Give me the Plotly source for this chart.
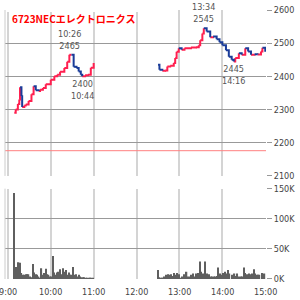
import plotly.graph_objects as go

# ---- data (minutes after 9:00) ----
price_t_am = [9, 11, 14, 16, 17, 19, 20, 23, 25, 29, 33, 36, 39, 43, 45, 49, 53, 60, 65, 69, 73, 79, 83, 86,
              89, 92, 96, 99, 102, 104, 108, 112, 116, 120]
price_am = [2290, 2300, 2317, 2330, 2367, 2340, 2308, 2312, 2315, 2326, 2346, 2370, 2358, 2356, 2360, 2365,
            2376, 2390, 2400, 2405, 2414, 2425, 2444, 2465, 2465, 2429, 2425, 2415, 2405, 2400, 2403, 2405,
            2426, 2440]
price_t_pm = [210, 212, 216, 220, 223, 227, 232, 234, 236, 239, 243, 247, 256, 263, 267, 269, 272, 274,
              278, 283, 287, 292, 296, 300, 305, 309, 313, 316, 318, 323, 327, 332, 336, 340, 345, 349,
              354, 356, 360]
price_pm = [2435, 2420, 2417, 2418, 2430, 2432, 2440, 2455, 2474, 2485, 2480, 2485, 2487, 2488, 2494, 2509,
            2529, 2545, 2535, 2518, 2520, 2512, 2503, 2494, 2479, 2459, 2450, 2445, 2455, 2470, 2465, 2485,
            2475, 2465, 2467, 2466, 2475, 2486, 2474]

vol_t = [9, 11, 13, 15, 17, 19, 21, 23, 25, 27, 29, 31, 33, 35, 37, 39, 41, 43, 45, 47, 49, 51, 53, 55,
         57, 59, 61, 63, 65, 67, 69, 71, 73, 75, 77, 79, 81, 83, 85, 87, 89, 91, 93, 95, 97, 99, 101, 103,
         105, 107, 109, 111, 113, 115, 117, 119,
         210, 212, 214, 216, 217, 219, 221, 224, 226, 228, 230, 232, 235, 237, 239, 241, 244, 246, 248, 250,
         252, 255, 257, 259, 261, 264, 266, 269, 270, 273, 275, 276, 278, 281, 284, 286, 288, 290, 292, 294,
         297, 299, 301, 304, 306, 308, 310, 313, 315, 317, 319, 321, 324, 326, 328, 330, 332, 335, 337, 339,
         341, 344, 346, 348, 350, 352, 355, 357, 359]
vol_k = [143, 20, 12, 28, 27, 10, 7, 7, 8, 8, 8, 4, 3, 25, 11, 8, 7, 4, 2, 18, 7, 10, 17, 8,
         7, 4, 4, 38, 11, 7, 11, 12, 16, 8, 18, 12, 15, 7, 11, 7, 7, 20, 7, 8, 4, 7, 4, 3,
         3, 3, 2, 2, 2, 2, 2, 2,
         15, 3, 1, 1, 2, 4, 7, 8, 7, 8, 5, 10, 7, 10, 8, 2, 4, 8, 4, 12,
         4, 4, 7, 9, 4, 9, 10, 29, 12, 9, 8, 29, 9, 8, 4, 4, 4, 4, 5, 19,
         9, 7, 10, 12, 9, 15, 9, 7, 5, 9, 5, 9, 4, 4, 4, 19, 10, 8, 9, 8,
         9, 16, 9, 7, 7, 7, 10, 8, 9]

hi_t = [86, 274]
hi_label_time = ["10:26", "13:34"]
hi_val = [2465, 2545]
lo_t = [104, 316]
lo_label_time = ["10:44", "14:16"]
lo_val = [2400, 2445]
ref_line = 2176

x_ticks = [0, 60, 120, 180, 240, 300, 360]
x_labels = ["9:00", "10:00", "11:00", "12:00", "13:00", "14:00", "15:00"]
p_ticks = [2100, 2200, 2300, 2400, 2500, 2600]
v_ticks = [0, 50000, 100000, 150000]
v_labels = ["0K", "50K", "100K", "150K"]
title = "6723NECエレクトロニクス"

RED = "#ff1f4f"
BLUE = "#1a3c99"
TICKFONT = dict(family="DejaVu Sans Condensed, DejaVu Sans", size=9, color="#444")

fig = go.Figure()


def add_steps(ts, ps):
    up_x, up_y, dn_x, dn_y = [], [], [], []
    for i in range(len(ts) - 1):
        seg_x = [ts[i], ts[i + 1], ts[i + 1], None]
        seg_y = [ps[i], ps[i], ps[i + 1], None]
        if ps[i + 1] >= ps[i]:
            up_x += seg_x
            up_y += seg_y
        else:
            dn_x += seg_x
            dn_y += seg_y
    fig.add_trace(go.Scatter(x=up_x, y=up_y, mode="lines", line=dict(color=RED, width=2),
                             xaxis="x", yaxis="y", hoverinfo="skip"))
    fig.add_trace(go.Scatter(x=dn_x, y=dn_y, mode="lines", line=dict(color=BLUE, width=2),
                             xaxis="x", yaxis="y", hoverinfo="skip"))


add_steps(price_t_am, price_am)
add_steps(price_t_pm, price_pm)

fig.add_trace(go.Bar(x=vol_t, y=[v * 1000 for v in vol_k], width=1.8,
                     marker=dict(color="#5f5f5f", line=dict(width=0)),
                     xaxis="x2", yaxis="y2", hoverinfo="skip"))

xcommon = dict(range=[-4, 361], tickvals=x_ticks, showgrid=True, gridcolor="#d4d4d4", gridwidth=2,
               zeroline=False, showline=False, ticks="", showticklabels=False)

fig.update_layout(
    width=300, height=300,
    margin=dict(l=5, r=22, t=5, b=21),
    paper_bgcolor="white", plot_bgcolor="white",
    showlegend=False,
    xaxis=dict(**xcommon, anchor="y"),
    xaxis2=dict(**xcommon, anchor="y2"),
    yaxis=dict(domain=[0.3832, 1], range=[2100, 2600], side="right", tickvals=p_ticks,
               showgrid=True, gridcolor="#999", gridwidth=1, zeroline=False,
               ticks="outside", ticklen=5, tickcolor="#999", tickfont=TICKFONT, anchor="x"),
    yaxis2=dict(domain=[0, 0.3358], range=[0, 150000], side="right", tickvals=v_ticks,
                ticktext=v_labels, showgrid=True, gridcolor="#999", gridwidth=1, zeroline=False,
                ticks="outside", ticklen=5, tickcolor="#999", tickfont=TICKFONT, anchor="x2"),
)

# x tick labels as annotations (so the 9:00 label at the edge stays visible)
for tv, tl in zip(x_ticks, x_labels):
    fig.add_annotation(x=tv, y=-0.047, xref="x2", yref="paper", text=tl, showarrow=False,
                       xanchor="center", yanchor="middle", font=TICKFONT)

# reference horizontal line
fig.add_shape(type="line", xref="x domain", x0=0, x1=1, yref="y", y0=ref_line, y1=ref_line,
              line=dict(color="#ff8080", width=1))
# left borders
for yr in ["y domain", "y2 domain"]:
    fig.add_shape(type="line", xref="x domain", x0=0, x1=0, yref=yr, y0=0, y1=1,
                  line=dict(color="#cccccc", width=1))
# hide top gridline under title
fig.add_shape(type="rect", layer="between", xref="x", x0=-4, x1=186, yref="y", y0=2594, y1=2606,
              fillcolor="white", line=dict(width=0))

LBL = dict(family="DejaVu Sans Condensed, DejaVu Sans", size=9, color="#555")
for t, tm, v in zip(hi_t, hi_label_time, hi_val):
    fig.add_annotation(x=t, y=v, xref="x", yref="y", text=f"{tm}<br>{v}", showarrow=False,
                       yanchor="bottom", yshift=2, font=LBL, align="center")
for t, tm, v in zip(lo_t, lo_label_time, lo_val):
    fig.add_annotation(x=t, y=v, xref="x", yref="y", text=f"{v}<br>{tm}", showarrow=False,
                       yanchor="top", yshift=-1, font=LBL, align="center")

fig.add_annotation(x=0.018, y=0.967, xref="paper", yref="paper", text=title, showarrow=False,
                   xanchor="left", yanchor="middle",
                   font=dict(family="Noto Sans CJK JP", size=10, color="#ff0000", weight="bold"))

fig.write_html("out.html")
